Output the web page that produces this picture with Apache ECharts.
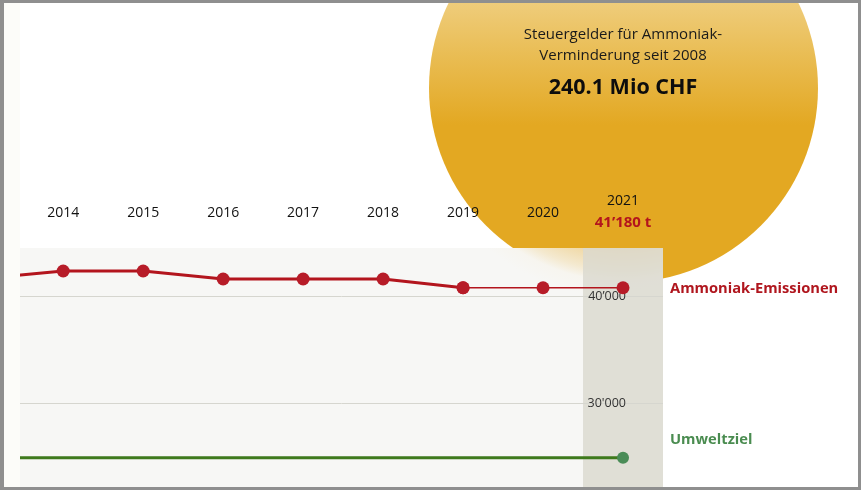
<!DOCTYPE html>
<html>
<head>
<meta charset="utf-8">
<script src="https://cdn.jsdelivr.net/npm/echarts@6/dist/echarts.min.js"></script>
<style>
  html, body { margin: 0; padding: 0; background: #ffffff; }
  #chart { width: 861px; height: 490px; }
</style>
</head>
<body>
<div id="chart"></div>
<script>
// ---- data ----
const years = [2013, 2014, 2015, 2016, 2017, 2018, 2019, 2020, 2021];
const emissions = [41710, 42410, 42410, 41660, 41660, 41660, 40840, 40840, 40840];
const target = [24900, 24900, 24900, 24900, 24900, 24900, 24900, 24900, 24900];
const yearTicks = [2014, 2015, 2016, 2017, 2018, 2019, 2020, 2021];
const yTickValues = [30000, 40000];
const yTickLabels = ["30'000", "40\u2019000"];
const latestLabel = "41\u2019180 t";
const seriesNames = ["Ammoniak-Emissionen", "Umweltziel"];
const bubbleLines = ["Steuergelder f\u00fcr Ammoniak-", "Verminderung seit 2008"];
const bubbleValue = "240.1 Mio CHF";

// ---- build ----
const FONT = '"Open Sans", "Noto Sans", sans-serif';
const lastYear = years[years.length - 1];
const pairs = (idxFrom, idxTo, arr) => years.slice(idxFrom, idxTo + 1).map((y, i) => [y, arr[idxFrom + i]]);
const idx2019 = years.indexOf(2019);

const chart = echarts.init(document.getElementById('chart'), null, { renderer: 'canvas' });

const option = {
  animation: false,
  backgroundColor: '#ffffff',
  grid: {
    left: 20, top: 248, width: 643, height: 239,
    show: true, borderWidth: 0,
    backgroundColor: {
      type: 'radial', x: 623, y: 88, r: 210, global: true,
      colorStops: [
        { offset: 0, color: '#efd49a' },
        { offset: 0.76, color: '#efd49a' },
        { offset: 0.8, color: '#f1dcae' },
        { offset: 0.87, color: '#f4e9cf' },
        { offset: 0.92, color: '#f7f5ef' },
        { offset: 1, color: '#f7f7f5' }
      ]
    }
  },
  xAxis: {
    type: 'value', position: 'top', min: 2013.46, max: lastYear + 0.5, z: 3,
    axisLine: { show: false }, axisTick: { show: false }, splitLine: { show: false },
    axisLabel: {
      customValues: yearTicks, margin: 14, fontFamily: FONT,
      formatter: v => v === lastYear ? '{y|' + v + '}\n{v|' + latestLabel + '}' : '{y|' + v + '}\n{e| }',
      rich: {
        y: { fontSize: 14, lineHeight: 22, color: '#111111', fontFamily: FONT },
        v: { fontSize: 15, lineHeight: 22, color: '#b3151d', fontWeight: 'bold', fontFamily: FONT },
        e: { fontSize: 6, lineHeight: 10 }
      }
    }
  },
  yAxis: {
    type: 'value', position: 'right', min: 22165, max: 44565, z: 3,
    axisLine: { show: false },
    axisTick: { show: false, customValues: yTickValues },
    splitLine: { show: true, lineStyle: { color: '#d6d6cf', width: 1 } },
    axisLabel: {
      inside: true, margin: 37, customValues: yTickValues,
      fontSize: 12.5, color: '#333333', fontFamily: FONT,
      formatter: v => yTickLabels[yTickValues.indexOf(v)]
    }
  },
  series: [
    {
      name: seriesNames[1], type: 'line', z: 1, clip: true,
      data: years.map((y, i) => [y, target[i]]),
      showSymbol: false, symbol: 'none',
      lineStyle: { color: '#3e7a1c', width: 3 }
    },
    {
      name: 'band', type: 'line', z: 2, data: [],
      markArea: {
        silent: true,
        itemStyle: { color: 'rgba(218,217,208,0.82)' },
        data: [[{ xAxis: lastYear - 0.5 }, { xAxis: lastYear + 0.5 }]]
      }
    },
    {
      name: seriesNames[1] + ' 2021', type: 'line', z: 4,
      data: [[lastYear, target[target.length - 1]]],
      symbol: 'circle', symbolSize: 12, showSymbol: true,
      itemStyle: { color: '#4a8c57' },
      lineStyle: { width: 0 },
      label: {
        show: true, position: 'right', distance: 41, offset: [0, -18],
        formatter: seriesNames[1], color: '#4a8c50', fontWeight: 'bold', fontSize: 14.7, fontFamily: FONT
      }
    },
    {
      name: seriesNames[0], type: 'line', z: 5, clip: true,
      data: pairs(0, idx2019, emissions),
      symbol: 'circle', symbolSize: 13, showSymbol: true,
      itemStyle: { color: '#b71c28' },
      lineStyle: { color: '#b3151d', width: 3 }
    },
    {
      name: seriesNames[0] + ' thin', type: 'line', z: 5, clip: true,
      data: pairs(idx2019, years.length - 1, emissions),
      symbol: 'circle', symbolSize: 13, showSymbol: true,
      itemStyle: { color: '#b71c28' },
      lineStyle: { color: '#b3151d', width: 1.6 },
      endLabel: {
        show: true, distance: 47, offset: [0, 1], formatter: seriesNames[0],
        color: '#b0161e', fontWeight: 'bold', fontSize: 14.7, fontFamily: FONT
      }
    }
  ],
  graphic: [
    {
      type: 'circle', z: -10, silent: true,
      shape: { cx: 623.5, cy: 88, r: 194.5 },
      style: {
        fill: {
          type: 'linear', x: 0, y: -10, x2: 0, y2: 125, global: true,
          colorStops: [{ offset: 0, color: '#f0d084' }, { offset: 0.5, color: '#e9bc52' }, { offset: 1, color: '#e3a822' }]
        }
      }
    },
    {
      type: 'text', z: 10, silent: true,
      x: 623, y: 27,
      style: { text: bubbleLines[0], fill: '#1a1a1a', font: '15px ' + FONT, textAlign: 'center' }
    },
    {
      type: 'text', z: 10, silent: true,
      x: 623, y: 48,
      style: { text: bubbleLines[1], fill: '#1a1a1a', font: '15px ' + FONT, textAlign: 'center' }
    },
    {
      type: 'text', z: 10, silent: true,
      x: 623, y: 77,
      style: { text: bubbleValue, fill: '#0d0d0d', font: 'bold 21.5px ' + FONT, textAlign: 'center' }
    },
    { type: 'rect', z: 100, silent: true, shape: { x: 4, y: 3, width: 16, height: 484 }, style: { fill: '#fcfcf9' } },
    { type: 'rect', z: 101, silent: true, shape: { x: 0, y: 0, width: 861, height: 3 }, style: { fill: '#8f8f8f' } },
    { type: 'rect', z: 101, silent: true, shape: { x: 0, y: 487, width: 861, height: 3 }, style: { fill: '#8f8f8f' } },
    { type: 'rect', z: 101, silent: true, shape: { x: 0, y: 0, width: 4, height: 490 }, style: { fill: '#8f8f8f' } },
    { type: 'rect', z: 101, silent: true, shape: { x: 858, y: 0, width: 3, height: 490 }, style: { fill: '#8f8f8f' } }
  ]
};
chart.setOption(option);
</script>
</body>
</html>
